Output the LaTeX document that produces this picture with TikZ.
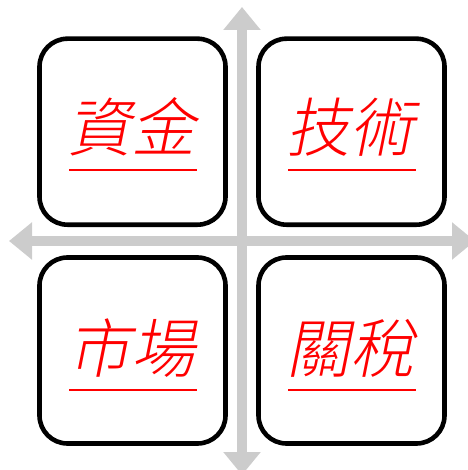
\documentclass[tikz,border=0pt]{standalone}
\usepackage{fontspec}
\newfontfamily\cjk[FakeSlant=0.2]{Noto Sans CJK TC Light}
\usetikzlibrary{arrows.meta}
\definecolor{axisgrey}{HTML}{CCCCCC}
\tikzset{
  quad/.style={draw=black, line width=4.6pt, rounded corners=28pt, fill=white,
    minimum width=186pt, minimum height=186pt, inner sep=0pt},
  word/.style={text=red, font=\cjk\fontsize{64pt}{64pt}\selectfont, inner sep=0pt, anchor=base west},
  uline/.style={draw=red, line width=1.8pt},
  axis/.style={draw=axisgrey, line width=9.5pt, {Triangle[width=36pt,length=23pt]}-{Triangle[width=36pt,length=23pt]}}
}
\begin{document}
\begin{tikzpicture}[x=1pt,y=-1pt]
\useasboundingbox (0,0) rectangle (467,470);
\coordinate (top) at (242,7);
\coordinate (bot) at (242,475);
\coordinate (lft) at (9,241);
\coordinate (rgt) at (475,241);
\draw[axis] (lft) -- (rgt);
\draw[axis] (top) -- (bot);
\node[quad] (q1) at (132.5,131.7) {};
\node[quad] (q2) at (351.5,131.7) {};
\node[quad] (q3) at (132.5,350.5) {};
\node[quad] (q4) at (351.5,350.5) {};
\node[word] (t1) at (67,152) {資金};
\node[word] (t2) at (286,152) {技術};
\node[word] (t3) at (67,372) {市場};
\node[word] (t4) at (286,372) {關稅};
\foreach \t in {t1,t2,t3,t4}{
  \draw[uline] ([xshift=2pt,yshift=-18pt]\t.base west) -- ([xshift=2pt,yshift=-18pt]\t.base east);
}
\end{tikzpicture}
\end{document}
